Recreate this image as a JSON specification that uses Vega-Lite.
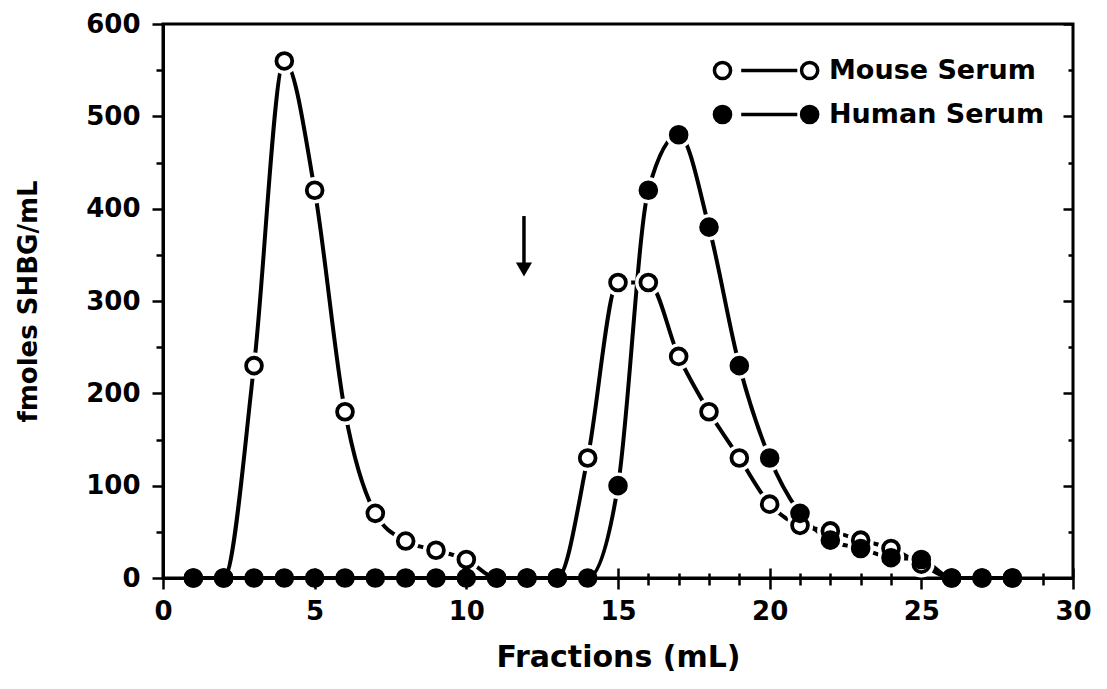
{
  "$schema": "https://vega.github.io/schema/vega-lite/v6.json",
  "width": 910,
  "height": 554,
  "autosize": "none",
  "padding": {"left": 163, "top": 24, "right": 34, "bottom": 111},
  "background": "white",
  "config": {
    "view": {"stroke": "black", "strokeWidth": 3},
    "font": "DejaVu Sans"
  },
  "datasets": {
    "serum": [
      {"series": "Mouse Serum", "x": 1, "y": 0},
      {"series": "Mouse Serum", "x": 2, "y": 0},
      {"series": "Mouse Serum", "x": 3, "y": 230},
      {"series": "Mouse Serum", "x": 4, "y": 560},
      {"series": "Mouse Serum", "x": 5, "y": 420},
      {"series": "Mouse Serum", "x": 6, "y": 180},
      {"series": "Mouse Serum", "x": 7, "y": 70},
      {"series": "Mouse Serum", "x": 8, "y": 40},
      {"series": "Mouse Serum", "x": 9, "y": 30},
      {"series": "Mouse Serum", "x": 10, "y": 20},
      {"series": "Mouse Serum", "x": 11, "y": 0},
      {"series": "Mouse Serum", "x": 12, "y": 0},
      {"series": "Mouse Serum", "x": 13, "y": 0},
      {"series": "Mouse Serum", "x": 14, "y": 130},
      {"series": "Mouse Serum", "x": 15, "y": 320},
      {"series": "Mouse Serum", "x": 16, "y": 320},
      {"series": "Mouse Serum", "x": 17, "y": 240},
      {"series": "Mouse Serum", "x": 18, "y": 180},
      {"series": "Mouse Serum", "x": 19, "y": 130},
      {"series": "Mouse Serum", "x": 20, "y": 80},
      {"series": "Mouse Serum", "x": 21, "y": 57},
      {"series": "Mouse Serum", "x": 22, "y": 51},
      {"series": "Mouse Serum", "x": 23, "y": 41},
      {"series": "Mouse Serum", "x": 24, "y": 32},
      {"series": "Mouse Serum", "x": 25, "y": 15},
      {"series": "Mouse Serum", "x": 26, "y": 0},
      {"series": "Mouse Serum", "x": 27, "y": 0},
      {"series": "Mouse Serum", "x": 28, "y": 0},
      {"series": "Human Serum", "x": 1, "y": 0},
      {"series": "Human Serum", "x": 2, "y": 0},
      {"series": "Human Serum", "x": 3, "y": 0},
      {"series": "Human Serum", "x": 4, "y": 0},
      {"series": "Human Serum", "x": 5, "y": 0},
      {"series": "Human Serum", "x": 6, "y": 0},
      {"series": "Human Serum", "x": 7, "y": 0},
      {"series": "Human Serum", "x": 8, "y": 0},
      {"series": "Human Serum", "x": 9, "y": 0},
      {"series": "Human Serum", "x": 10, "y": 0},
      {"series": "Human Serum", "x": 11, "y": 0},
      {"series": "Human Serum", "x": 12, "y": 0},
      {"series": "Human Serum", "x": 13, "y": 0},
      {"series": "Human Serum", "x": 14, "y": 0},
      {"series": "Human Serum", "x": 15, "y": 100},
      {"series": "Human Serum", "x": 16, "y": 420},
      {"series": "Human Serum", "x": 17, "y": 480},
      {"series": "Human Serum", "x": 18, "y": 380},
      {"series": "Human Serum", "x": 19, "y": 230},
      {"series": "Human Serum", "x": 20, "y": 130},
      {"series": "Human Serum", "x": 21, "y": 70},
      {"series": "Human Serum", "x": 22, "y": 41},
      {"series": "Human Serum", "x": 23, "y": 32},
      {"series": "Human Serum", "x": 24, "y": 22},
      {"series": "Human Serum", "x": 25, "y": 20},
      {"series": "Human Serum", "x": 26, "y": 0},
      {"series": "Human Serum", "x": 27, "y": 0},
      {"series": "Human Serum", "x": 28, "y": 0}
    ],
    "arrow": [
      {"x": 11.9, "y": 392, "y2": 338}
    ],
    "arrowhead": [
      {"x": 11.9, "y": 334}
    ]
  },
  "encoding": {
    "x": {
      "field": "x", "type": "quantitative",
      "scale": {"domain": [0, 30], "nice": false, "zero": false},
      "axis": {
        "title": "Fractions (mL)",
        "titleFont": "DejaVu Sans", "titleFontWeight": "bold", "titleFontSize": 30, "titleColor": "black",
        "titlePadding": 18,
        "values": [0,1,2,3,4,5,6,7,8,9,10,11,12,13,14,15,16,17,18,19,20,21,22,23,24,25,26,27,28,29,30],
        "labelExpr": "datum.value % 5 === 0 ? datum.label : ''",
        "labelFont": "DejaVu Sans", "labelFontWeight": "bold", "labelFontSize": 26, "labelColor": "black",
        "labelPadding": 9, "labelFlush": false, "labelOverlap": false,
        "domainColor": "black", "domainWidth": 3,
        "tickColor": "black", "tickWidth": 2.5,
        "tickSize": {"condition": {"test": "datum.value % 5 === 0", "value": 11}, "value": 7},
        "grid": true, "gridColor": "black", "gridWidth": 2.5, "gridOpacity": 1,
        "gridDash": {"condition": {"test": "datum.value % 5 === 0", "value": [0, 544, 10, 3000]}, "value": [0, 549, 5, 3000]}
      }
    },
    "y": {
      "field": "y", "type": "quantitative",
      "scale": {"domain": [0, 600], "nice": false},
      "axis": {
        "title": "fmoles SHBG/mL",
        "titleFont": "DejaVu Sans", "titleFontWeight": "bold", "titleFontSize": 26, "titleColor": "black",
        "titlePadding": 44,
        "values": [0,50,100,150,200,250,300,350,400,450,500,550,600],
        "labelExpr": "datum.value % 100 === 0 ? datum.label : ''",
        "labelFont": "DejaVu Sans", "labelFontWeight": "bold", "labelFontSize": 26, "labelColor": "black",
        "labelPadding": 12, "labelFlush": false, "labelOverlap": false,
        "domainColor": "black", "domainWidth": 3,
        "tickColor": "black", "tickWidth": 2.5,
        "tickSize": {"condition": {"test": "datum.value % 100 === 0", "value": 11}, "value": 7},
        "grid": true, "gridColor": "black", "gridWidth": 2.5, "gridOpacity": 1,
        "gridDash": {"condition": {"test": "datum.value % 100 === 0", "value": [0, 900, 10, 3000]}, "value": [0, 905, 5, 3000]}
      }
    }
  },
  "layer": [
    {
      "data": {"name": "serum"},
      "mark": {"type": "line", "interpolate": "monotone", "stroke": "black", "strokeWidth": 4},
      "encoding": {
        "detail": {"field": "series"}
      }
    },
    {
      "data": {"name": "serum"},
      "transform": [{"filter": "datum.y > 0"}],
      "mark": {"type": "point", "shape": "circle", "filled": true, "fill": "white", "stroke": null, "opacity": 1, "size": 700}
    },
    {
      "data": {"name": "serum"},
      "mark": {"type": "point", "shape": "circle", "filled": true, "stroke": "black", "strokeWidth": 3.8, "opacity": 1, "size": 250},
      "encoding": {
        "fill": {
          "field": "series", "type": "nominal",
          "scale": {"domain": ["Mouse Serum", "Human Serum"], "range": ["white", "black"]},
          "legend": {
            "title": null,
            "orient": "none", "legendX": 546, "legendY": 33,
            "symbolType": "M-0.95,0A0.95,0.95 0 1,0 0.95,0A0.95,0.95 0 1,0 -0.95,0Z M2.2,0L8.8,0 M9.3,0A0.95,0.95 0 1,0 11.2,0A0.95,0.95 0 1,0 9.3,0Z",
            "symbolSize": 289,
            "symbolStrokeColor": "black", "symbolStrokeWidth": 3.5, "symbolOpacity": 1,
            "labelFont": "DejaVu Sans", "labelFontWeight": "bold", "labelFontSize": 27, "labelColor": "black",
            "labelOffset": 93, "rowPadding": 13, "labelLimit": 400
          }
        }
      }
    },
    {
      "data": {"name": "arrow"},
      "mark": {"type": "rule", "stroke": "black", "strokeWidth": 3.5},
      "encoding": {
        "y2": {"field": "y2"}
      }
    },
    {
      "data": {"name": "arrowhead"},
      "mark": {"type": "point", "shape": "triangle-down", "filled": true, "fill": "black", "stroke": null, "opacity": 1, "size": 260}
    }
  ]
}
